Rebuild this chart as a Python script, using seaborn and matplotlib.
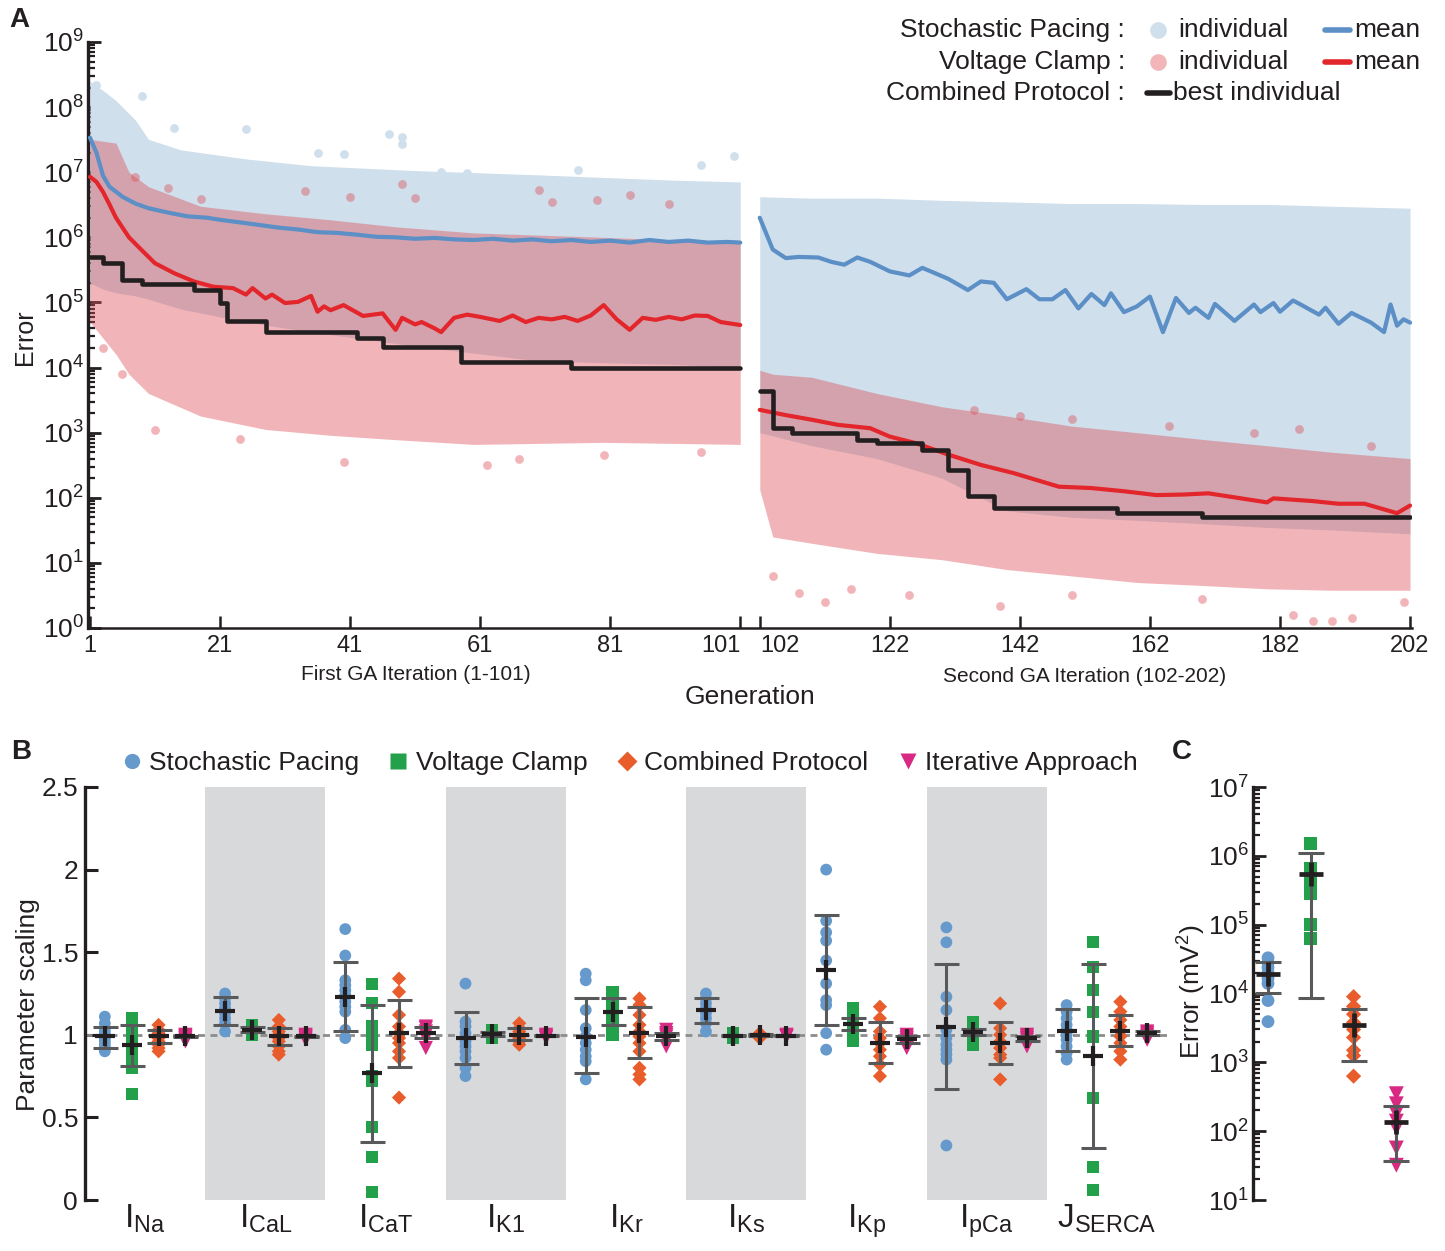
import numpy as np
import matplotlib
matplotlib.use("Agg")
import matplotlib.pyplot as plt
import seaborn as sns
from matplotlib.lines import Line2D
from matplotlib.ticker import LogLocator, NullFormatter

sns.set_style("white")
plt.rcParams['font.family'] = ['Liberation Sans', 'DejaVu Sans']
plt.rcParams['mathtext.fontset'] = 'custom'
plt.rcParams['mathtext.rm'] = 'Liberation Sans'
plt.rcParams['mathtext.it'] = 'Liberation Sans'
plt.rcParams['mathtext.bf'] = 'Liberation Sans:bold'
plt.rcParams['text.color'] = '#231f20'
plt.rcParams['axes.labelcolor'] = '#231f20'
plt.rcParams['xtick.color'] = '#231f20'
plt.rcParams['ytick.color'] = '#231f20'

# ================= Panel A data =================
# mean error, stochastic pacing (first GA iteration)
sp1_mean_gen = [1, 2, 3, 4, 6, 8, 10, 13, 16, 19, 21, 24, 27, 30, 33, 36, 39, 42, 45, 48,
                51, 54, 57, 60, 63, 66, 69, 72, 75, 78, 81, 84, 87, 90, 93, 96, 99, 101]
sp1_mean_err = [3.4e7, 2.0e7, 8.9e6, 6.0e6, 4.2e6, 3.3e6, 2.8e6, 2.4e6, 2.1e6, 2.0e6,
                1.86e6, 1.7e6, 1.55e6, 1.41e6, 1.32e6, 1.2e6, 1.17e6, 1.1e6, 1.02e6, 1.0e6,
                9.5e5, 9.8e5, 9.3e5, 9.1e5, 9.5e5, 8.9e5, 9.3e5, 8.7e5, 9.1e5, 8.5e5,
                8.9e5, 8.3e5, 9.1e5, 8.5e5, 8.9e5, 8.3e5, 8.5e5, 8.3e5]
# mean error, voltage clamp (first GA iteration)
vc1_mean_gen = [1, 2, 3, 4, 5, 7, 9, 11, 14, 17, 20, 23, 25, 26, 28, 29, 31, 33, 35, 36,
                37, 38, 40, 43, 46, 48, 49, 51, 52, 54, 55, 57, 59, 61, 64, 66, 68, 70, 72,
                74, 76, 78, 80, 82, 84, 86, 88, 90, 92, 94, 96, 98, 101]
vc1_mean_err = [8.5e6, 7.1e6, 5.0e6, 3.2e6, 2.0e6, 1.0e6, 6.3e5, 4.0e5, 2.8e5, 2.1e5,
                1.74e5, 1.66e5, 1.32e5, 1.66e5, 1.15e5, 1.32e5, 9.8e4, 1.02e5, 1.26e5, 7.2e4,
                8.7e4, 7.6e4, 9.1e4, 6.2e4, 6.8e4, 3.8e4, 5.8e4, 4.6e4, 5.0e4, 4.0e4,
                3.5e4, 5.8e4, 6.5e4, 6.0e4, 5.2e4, 6.3e4, 5.0e4, 5.8e4, 5.5e4, 6.0e4,
                5.2e4, 6.3e4, 9.1e4, 5.5e4, 3.8e4, 5.8e4, 5.4e4, 6.0e4, 5.5e4, 6.3e4,
                6.2e4, 5.0e4, 4.5e4]
# best individual, combined protocol (first GA iteration), step starts
cp1_best_gen = [1, 3, 6, 9, 17, 21, 22, 28, 42, 46, 58, 75]
cp1_best_err = [5.0e5, 4.0e5, 2.2e5, 1.95e5, 1.55e5, 9.8e4, 5.1e4, 3.5e4, 2.8e4, 2.1e4, 1.2e4, 1.0e4]

# second GA iteration
sp2_mean_gen = [102, 104, 106, 108, 111, 113, 115, 117, 119, 122, 125, 127, 129, 131, 134,
                136, 138, 140, 143, 145, 147, 149, 151, 153, 155, 156, 158, 160, 162, 164,
                166, 168, 169, 171, 172, 175, 178, 179, 181, 182, 184, 185, 188, 189, 191,
                193, 196, 198, 199, 200, 201, 202]
sp2_mean_err = [2.0e6, 6.5e5, 4.8e5, 5.0e5, 4.9e5, 4.2e5, 3.8e5, 4.9e5, 4.2e5, 3.0e5,
                2.6e5, 3.4e5, 2.8e5, 2.3e5, 1.55e5, 2.1e5, 2.0e5, 1.12e5, 1.6e5, 1.12e5,
                1.12e5, 1.55e5, 8.1e4, 1.35e5, 9.1e4, 1.38e5, 7.1e4, 8.7e4, 1.23e5, 3.5e4,
                1.17e5, 6.9e4, 8.3e4, 5.8e4, 9.5e4, 5.2e4, 9.3e4, 7.1e4, 9.8e4, 7.2e4,
                1.07e5, 9.5e4, 6.5e4, 8.3e4, 4.7e4, 6.9e4, 4.9e4, 3.5e4, 9.3e4, 4.4e4,
                5.5e4, 4.9e4]
vc2_mean_gen = [102, 106, 110, 114, 119, 122, 126, 131, 136, 141, 148, 153, 158, 163, 167,
                171, 176, 180, 181, 187, 191, 195, 200, 202]
vc2_mean_err = [2.24e3, 1.86e3, 1.58e3, 1.32e3, 1.17e3, 8.7e2, 6.9e2, 4.6e2, 3.2e2, 2.4e2,
                1.48e2, 1.41e2, 1.26e2, 1.1e2, 1.12e2, 1.17e2, 9.8e1, 8.5e1, 9.8e1, 8.9e1,
                8.1e1, 8.1e1, 5.8e1, 7.6e1]
cp2_best_gen = [102, 104, 107, 117, 120, 127, 131, 134, 138, 157, 170]
cp2_best_err = [4.3e3, 1.2e3, 9.8e2, 7.8e2, 6.9e2, 5.5e2, 2.7e2, 1.05e2, 6.9e1, 5.9e1, 5.1e1]

# envelopes of the individual clouds
sp1_env_gen = [1, 3, 5, 8, 10, 15, 25, 35, 50, 70, 90, 101]
sp1_env_hi = [2.5e8, 1.8e8, 1.26e8, 6.3e7, 3.2e7, 2.2e7, 1.6e7, 1.26e7, 1.07e7, 9.1e6, 7.6e6, 7.1e6]
sp1_env_lo = [2.0e5, 1.6e5, 1.4e5, 1.26e5, 1.12e5, 7.9e4, 5.0e4, 3.5e4, 2.2e4, 1.26e4, 1.12e4, 1.0e4]
vc1_env_gen = [1, 5, 7, 10, 18, 28, 38, 48, 60, 80, 101]
vc1_env_hi = [3.2e7, 2.8e7, 1.0e7, 6.0e6, 3.0e6, 2.3e6, 1.86e6, 1.45e6, 1.17e6, 1.0e6, 8.3e5]
vc1_env_lo = [5.0e4, 1.6e4, 7.9e3, 4.0e3, 1.8e3, 1.12e3, 9.1e2, 7.8e2, 6.6e2, 7.1e2, 6.6e2]
sp2_env_gen = [102, 110, 120, 130, 140, 150, 160, 170, 180, 190, 202]
sp2_env_hi = [4.2e6, 4.0e6, 4.0e6, 3.7e6, 3.5e6, 3.3e6, 3.3e6, 3.2e6, 3.2e6, 3.0e6, 2.8e6]
sp2_env_lo = [1.0e3, 6.3e2, 4.0e2, 2.0e2, 6.3e1, 5.0e1, 4.5e1, 4.0e1, 3.5e1, 3.2e1, 2.8e1]
vc2_env_gen = [102, 104, 110, 120, 130, 140, 150, 160, 170, 180, 190, 202]
vc2_env_hi = [9.1e3, 7.9e3, 7.1e3, 4.0e3, 2.5e3, 1.8e3, 1.26e3, 1.0e3, 7.9e2, 6.3e2, 5.0e2, 4.0e2]
vc2_env_lo = [1.32e2, 2.5e1, 2.0e1, 1.4e1, 1.12e1, 7.9, 6.3, 5.0, 4.5, 4.0, 3.8, 3.8]

# scattered individuals outside the dense clouds
sp_out_gen = [2, 3, 9, 14, 25, 36, 40, 47, 49, 49, 55, 59, 76, 95, 100]
sp_out_err = [2.2e8, 1.5e8, 1.5e8, 4.8e7, 4.6e7, 2.0e7, 1.9e7, 3.9e7, 3.5e7, 2.7e7,
              1.0e7, 9.8e6, 1.1e7, 1.3e7, 1.8e7]
vc_out_gen = [8, 13, 18, 34, 41, 49, 51, 70, 72, 79, 84, 90,
              3, 6, 11, 24, 40, 62, 67, 80, 95,
              104, 108, 112, 116, 125, 139, 150, 170, 184, 187, 190, 193, 201,
              135, 142, 150, 165, 178, 185, 196]
vc_out_err = [8.5e6, 5.8e6, 3.9e6, 5.1e6, 4.2e6, 6.6e6, 4.0e6, 5.4e6, 3.5e6, 3.7e6, 4.5e6, 3.2e6,
              2.0e4, 7.9e3, 1.1e3, 8.0e2, 3.5e2, 3.2e2, 4.0e2, 4.5e2, 5.0e2,
              6.3, 3.5, 2.5, 4.0, 3.2, 2.2, 3.2, 2.8, 1.6, 1.3, 1.3, 1.4, 2.5,
              2.2e3, 1.8e3, 1.6e3, 1.26e3, 1.0e3, 1.12e3, 6.3e2]

gen_ticks = [1, 21, 41, 61, 81, 101, 102, 122, 142, 162, 182, 202]

# ================= Panel B / C data =================
categories = [r'$\mathregular{I_{Na}}$', r'$\mathregular{I_{CaL}}$', r'$\mathregular{I_{CaT}}$',
              r'$\mathregular{I_{K1}}$', r'$\mathregular{I_{Kr}}$', r'$\mathregular{I_{Ks}}$',
              r'$\mathregular{I_{Kp}}$', r'$\mathregular{I_{pCa}}$', r'$\mathregular{J_{SERCA}}$']
methods = ['Stochastic Pacing', 'Voltage Clamp', 'Combined Protocol', 'Iterative Approach']

sp_pts = [[1.11, 1.07, 1.04, 1.02, 1.00, 0.98, 0.96, 0.94, 0.92, 0.90],
          [1.25, 1.22, 1.19, 1.16, 1.13, 1.10, 1.07, 1.02],
          [1.64, 1.48, 1.33, 1.30, 1.27, 1.24, 1.20, 1.17, 1.14, 1.03, 0.98],
          [1.31, 1.08, 1.05, 1.01, 0.98, 0.96, 0.93, 0.90, 0.86, 0.80, 0.75],
          [1.37, 1.33, 1.15, 1.04, 0.99, 0.95, 0.91, 0.87, 0.84, 0.73],
          [1.25, 1.22, 1.19, 1.16, 1.13, 1.10, 1.07, 1.02],
          [2.00, 1.69, 1.62, 1.57, 1.45, 1.31, 1.21, 1.18, 1.01, 0.91],
          [1.65, 1.56, 1.23, 1.15, 1.03, 0.98, 0.94, 0.91, 0.88, 0.85, 0.33],
          [1.18, 1.14, 1.10, 1.06, 1.03, 1.00, 0.97, 0.93, 0.89, 0.85]]
sp_mean = [0.99, 1.146, 1.23, 0.978, 0.988, 1.15, 1.392, 1.049, 1.025]
sp_lo = [0.92, 1.06, 1.02, 0.821, 0.767, 1.07, 1.059, 0.672, 0.902]
sp_hi = [1.05, 1.227, 1.44, 1.138, 1.221, 1.22, 1.725, 1.427, 1.154]

vc_pts = [[1.10, 1.02, 1.00, 0.97, 0.93, 0.90, 0.86, 0.83, 0.80, 0.64],
          [1.06, 1.05, 1.04, 1.03, 1.02, 1.01, 1.00],
          [1.31, 1.19, 1.05, 1.00, 0.94, 0.75, 0.72, 0.44, 0.26, 0.05],
          [1.03, 1.02, 1.01, 1.00, 0.99, 0.98],
          [1.26, 1.23, 1.20, 1.17, 1.14, 1.11, 1.08, 1.05, 1.02, 1.00],
          [1.01, 1.00, 0.99, 0.98],
          [1.16, 1.13, 1.10, 1.07, 1.04, 1.01, 0.98, 0.96],
          [1.08, 1.05, 1.03, 1.01, 0.99, 0.96, 0.94],
          [1.56, 1.41, 1.27, 1.14, 0.99, 0.62, 0.20, 0.06]]
vc_mean = [0.94, 1.03, 0.767, 1.005, 1.14, 0.995, 1.065, 1.019, 0.874]
vc_lo = [0.81, 1.015, 0.353, 0.995, 1.06, 0.99, 1.03, 1.00, 0.313]
vc_hi = [1.06, 1.045, 1.18, 1.015, 1.224, 1.00, 1.10, 1.035, 1.427]

cp_pts = [[1.06, 1.03, 1.01, 0.99, 0.98, 0.96, 0.94, 0.92, 0.90],
          [1.09, 1.05, 1.02, 1.00, 0.98, 0.96, 0.93, 0.90, 0.88],
          [1.34, 1.26, 1.12, 1.05, 1.01, 0.98, 0.95, 0.90, 0.86, 0.62],
          [1.07, 1.04, 1.02, 1.00, 0.98, 0.96, 0.94],
          [1.22, 1.18, 1.12, 1.06, 1.02, 0.99, 0.95, 0.90, 0.80, 0.76, 0.73],
          [1.01, 1.00, 0.99, 0.98],
          [1.17, 1.10, 1.02, 0.98, 0.95, 0.91, 0.87, 0.82, 0.75],
          [1.19, 1.04, 1.00, 0.96, 0.92, 0.88, 0.86, 0.73],
          [1.20, 1.14, 1.09, 1.05, 1.02, 0.99, 0.95, 0.90, 0.85]]
cp_mean = [0.99, 0.99, 1.01, 1.00, 1.013, 0.997, 0.952, 0.949, 1.025]
cp_lo = [0.95, 0.94, 0.807, 0.97, 0.858, 0.99, 0.827, 0.821, 0.934]
cp_hi = [1.03, 1.04, 1.21, 1.04, 1.17, 1.005, 1.08, 1.076, 1.12]

ia_pts = [[1.00, 0.99, 0.99, 0.98, 0.97, 0.96],
          [1.00, 0.99, 0.99, 0.98, 0.97],
          [1.05, 1.04, 1.02, 1.01, 1.00, 0.98, 0.92],
          [1.00, 0.99, 0.99, 0.98],
          [1.03, 1.01, 1.00, 0.99, 0.97, 0.93],
          [1.00, 0.99, 0.99],
          [1.00, 0.99, 0.98, 0.97, 0.95, 0.92],
          [1.00, 0.99, 0.98, 0.97, 0.95, 0.93],
          [1.02, 1.01, 1.00, 0.99, 0.97]]
ia_mean = [0.99, 0.99, 1.01, 0.995, 0.99, 0.995, 0.975, 0.98, 1.01]
ia_lo = [0.985, 0.985, 0.98, 0.99, 0.97, 0.99, 0.95, 0.965, 1.00]
ia_hi = [0.995, 0.995, 1.05, 1.00, 1.01, 1.00, 0.995, 0.995, 1.02]

# Panel C: final errors (mV^2)
c_pts = [[3.3e4, 2.8e4, 2.4e4, 2.0e4, 1.66e4, 1.4e4, 7.9e3, 3.9e3],
         [1.5e6, 6.5e5, 5.5e5, 4.5e5, 3.5e5, 2.8e5, 1.0e5, 6.3e4],
         [9.0e3, 6.5e3, 5.0e3, 3.8e3, 3.0e3, 2.3e3, 1.5e3, 1.25e3, 6.3e2],
         [350, 250, 180, 140, 110, 57, 32]]
c_mean = [1.95e4, 5.4e5, 3.5e3, 135]
c_lo = [1.02e4, 8.7e3, 1.05e3, 37]
c_hi = [2.9e4, 1.09e6, 5.9e3, 235]

# ================= styling =================
W, H = 1445, 1251
DARK = '#231f20'
SP_LINE = '#5b8fc5'
VC_LINE = '#e3262b'
SP_FILL = '#cfdfec'
VC_FILL = '#de4850'
VC_ALPHA = 0.4
COLS = ['#6699cc', '#23a14a', '#e95d2c', '#d82a83']
MKS = ['o', 's', 'D', 'v']
SZ = [72, 76, 52, 105]
OFFS = [-0.335, -0.112, 0.112, 0.335]
ERRC = '#58595b'


def fx(px):
    return px / W


def fy(py):
    return 1 - py / H


def gpos(g):
    g = np.asarray(g, dtype=float)
    return np.where(g >= 102, g + 2, g)


fig = plt.figure(figsize=(W / 100, H / 100), dpi=100)

# ---------------- Panel A ----------------
axA = fig.add_axes([fx(88), fy(628), fx(1412 - 88), (628 - 42) / H])
axA.set_yscale('log')

axA.fill_between(gpos(sp1_env_gen), sp1_env_lo, sp1_env_hi, color=SP_FILL, lw=0, zorder=1)
axA.fill_between(gpos(sp2_env_gen), sp2_env_lo, sp2_env_hi, color=SP_FILL, lw=0, zorder=1)
axA.scatter(gpos(sp_out_gen), sp_out_err, s=40, color=SP_FILL, lw=0, zorder=1)
axA.fill_between(gpos(vc1_env_gen), vc1_env_lo, vc1_env_hi, color=VC_FILL, alpha=VC_ALPHA, lw=0, zorder=2)
axA.fill_between(gpos(vc2_env_gen), vc2_env_lo, vc2_env_hi, color=VC_FILL, alpha=VC_ALPHA, lw=0, zorder=2)
axA.scatter(gpos(vc_out_gen), vc_out_err, s=40, color=VC_FILL, alpha=VC_ALPHA, lw=0, zorder=2)

for g, v in [(sp1_mean_gen, sp1_mean_err), (sp2_mean_gen, sp2_mean_err)]:
    sns.lineplot(x=gpos(g), y=v, ax=axA, color=SP_LINE, lw=3, estimator=None, sort=False, zorder=4)
for g, v in [(vc1_mean_gen, vc1_mean_err), (vc2_mean_gen, vc2_mean_err)]:
    sns.lineplot(x=gpos(g), y=v, ax=axA, color=VC_LINE, lw=3, estimator=None, sort=False, zorder=4)
for g, v, end in [(cp1_best_gen, cp1_best_err, 101), (cp2_best_gen, cp2_best_err, 202)]:
    axA.step(gpos(list(g) + [end]), list(v) + [v[-1]], where='post', color=DARK, lw=3.3, zorder=5)

axA.set_xlim(0.7, 204.3)
axA.set_ylim(1, 1e9)
axA.set_xticks(gpos(gen_ticks))
axA.set_xticklabels([str(t) for t in gen_ticks])
for lab, t in zip(axA.get_xticklabels(), gen_ticks):
    if t == 101:
        lab.set_ha('right')
    elif t == 102:
        lab.set_ha('left')
axA.yaxis.set_major_locator(LogLocator(base=10, numticks=20))
axA.yaxis.set_minor_locator(LogLocator(base=10, subs=np.arange(2, 10), numticks=200))
axA.yaxis.set_minor_formatter(NullFormatter())
axA.tick_params(axis='x', which='major', direction='in', bottom=True, length=9, width=1.8,
                labelsize=17, pad=5)
axA.tick_params(axis='y', which='major', direction='in', left=True, length=9, width=2,
                labelsize=19, pad=3)
axA.tick_params(axis='y', which='minor', direction='in', left=True, length=5, width=1.6)
axA.tick_params(axis='x', which='minor', bottom=False, length=0)
for s in ['top', 'right']:
    axA.spines[s].set_visible(False)
axA.spines['left'].set_linewidth(2.4)
axA.spines['bottom'].set_linewidth(1.8)
for s in ['left', 'bottom']:
    axA.spines[s].set_color(DARK)
axA.set_facecolor('none')
axA.grid(False)

fig.text(fx(25), fy(337), 'Error', rotation=90, ha='center', va='center', fontsize=18)
fig.text(fx(416), fy(675), 'First GA Iteration (1-101)', ha='center', va='center', fontsize=15)
fig.text(fx(1085), fy(676), 'Second GA Iteration (102-202)', ha='center', va='center', fontsize=15)
fig.text(fx(750), fy(697), 'Generation', ha='center', va='center', fontsize=19)

# legend of panel A
rows = [30, 62, 93]
for py, lab in zip(rows, ['Stochastic Pacing :', 'Voltage Clamp :', 'Combined Protocol :']):
    fig.text(fx(1125), fy(py), lab, ha='right', va='center', fontsize=19)
for py, fc, lc in [(30, SP_FILL, SP_LINE), (62, '#f2b6b9', VC_LINE)]:
    fig.add_artist(Line2D([fx(1158)], [fy(py)], marker='o', ms=12, color=fc, mec='none',
                          transform=fig.transFigure))
    fig.text(fx(1178), fy(py), 'individual', ha='left', va='center', fontsize=19)
    fig.add_artist(Line2D([fx(1325), fx(1350)], [fy(py), fy(py)], lw=4, color=lc,
                          transform=fig.transFigure))
    fig.text(fx(1354), fy(py), 'mean', ha='left', va='center', fontsize=19)
fig.add_artist(Line2D([fx(1147), fx(1170)], [fy(93), fy(93)], lw=4, color=DARK,
                      transform=fig.transFigure))
fig.text(fx(1173), fy(93), 'best individual', ha='left', va='center', fontsize=19)

# ---------------- Panel B ----------------
axB = fig.add_axes([fx(85), fy(1200), fx(1167 - 85), (1200 - 787) / H])
for i in [1, 3, 5, 7]:
    axB.axvspan(i - 0.5, i + 0.5, color='#d8d9db', lw=0, zorder=0)
axB.axhline(1.0, color='#8c8c8c', ls=(0, (2.5, 2)), lw=2, zorder=1)

groups = [(sp_pts, sp_mean, sp_lo, sp_hi), (vc_pts, vc_mean, vc_lo, vc_hi),
          (cp_pts, cp_mean, cp_lo, cp_hi), (ia_pts, ia_mean, ia_lo, ia_hi)]
for j, (pts, mean, lo, hi) in enumerate(groups):
    xs, ys = [], []
    for i, p in enumerate(pts):
        xs += [i + OFFS[j]] * len(p)
        ys += p
    sns.scatterplot(x=xs, y=ys, ax=axB, marker=MKS[j], s=SZ[j], color=COLS[j],
                    edgecolor='none', linewidth=0, zorder=3, clip_on=False)
    xm = np.arange(len(mean)) + OFFS[j]
    mean = np.array(mean)
    axB.errorbar(xm, mean, yerr=[mean - np.array(lo), np.array(hi) - mean], fmt='none',
                 ecolor=ERRC, elinewidth=2.2, capsize=9, capthick=2.2, zorder=4)
    axB.plot(xm, mean, ls='none', marker='+', ms=14, mew=3, color=DARK, zorder=5)

axB.set_xlim(-0.5, 8.5)
axB.set_ylim(0, 2.5)
axB.set_xticks(range(len(categories)))
axB.set_xticklabels(categories, fontsize=24)
axB.set_yticks([0, 0.5, 1, 1.5, 2, 2.5])
axB.set_yticklabels(['0', '0.5', '1', '1.5', '2', '2.5'])
axB.tick_params(axis='x', length=0, bottom=False, pad=2)
axB.tick_params(axis='y', direction='in', left=True, length=9, width=2.2, labelsize=19, pad=5)
for s in ['top', 'right', 'bottom']:
    axB.spines[s].set_visible(False)
axB.spines['left'].set_linewidth(2.4)
axB.spines['left'].set_color(DARK)
axB.set_facecolor('none')
axB.grid(False)
axB.set_xlabel('')
axB.set_ylabel('')
fig.text(fx(28), fy(1005), 'Parameter scaling', rotation=90, ha='center', va='center', fontsize=19)

handles = [Line2D([], [], ls='none', marker=MKS[j], color=COLS[j], mec='none',
                  ms=[11, 11, 10, 12][j]) for j in range(4)]
fig.legend(handles, methods, ncol=4, loc='center', bbox_to_anchor=(fx(628), fy(763)),
           frameon=False, fontsize=19, handletextpad=0.15, columnspacing=1.0, handlelength=1.0,
           borderaxespad=0, borderpad=0)

# ---------------- Panel C ----------------
axC = fig.add_axes([fx(1253), fy(1200), fx(169), (1200 - 787) / H])
axC.set_yscale('log')
csz = [85, 90, 60, 115]
for j in range(4):
    sns.scatterplot(x=[j] * len(c_pts[j]), y=c_pts[j], ax=axC, marker=MKS[j], s=csz[j],
                    color=COLS[j], edgecolor='none', linewidth=0, zorder=3)
cm = np.array(c_mean)
axC.errorbar(np.arange(4), cm, yerr=[cm - np.array(c_lo), np.array(c_hi) - cm], fmt='none',
             ecolor=ERRC, elinewidth=2.2, capsize=9.5, capthick=2.2, zorder=4)
axC.plot(np.arange(4), cm, ls='none', marker='+', ms=17, mew=3.4, color=DARK, zorder=5)
axC.set_xlim(-0.351, 3.6)
axC.set_ylim(10, 1e7)
axC.set_xticks([])
axC.set_xlabel('')
axC.set_ylabel('')
axC.tick_params(axis='x', bottom=False, labelbottom=False)
axC.yaxis.set_major_locator(LogLocator(base=10, numticks=20))
axC.yaxis.set_minor_locator(LogLocator(base=10, subs=np.arange(2, 10), numticks=200))
axC.yaxis.set_minor_formatter(NullFormatter())
axC.tick_params(axis='y', which='major', direction='in', left=True, length=9, width=2,
                labelsize=19, pad=3)
axC.tick_params(axis='y', which='minor', direction='in', left=True, length=5, width=1.6)
for s in ['top', 'right', 'bottom']:
    axC.spines[s].set_visible(False)
axC.spines['left'].set_linewidth(2.4)
axC.spines['left'].set_color(DARK)
axC.set_facecolor('none')
axC.grid(False)
fig.text(fx(1192), fy(992), r'Error (mV$\mathregular{^2}$)', rotation=90, ha='center',
         va='center', fontsize=19)

# panel letters
fig.text(fx(19), fy(20), 'A', ha='center', va='center', fontsize=20, fontweight='bold')
fig.text(fx(21), fy(752), 'B', ha='center', va='center', fontsize=20, fontweight='bold')
fig.text(fx(1182), fy(752), 'C', ha='center', va='center', fontsize=20, fontweight='bold')

fig.savefig('out.png', dpi=100, facecolor='white')
